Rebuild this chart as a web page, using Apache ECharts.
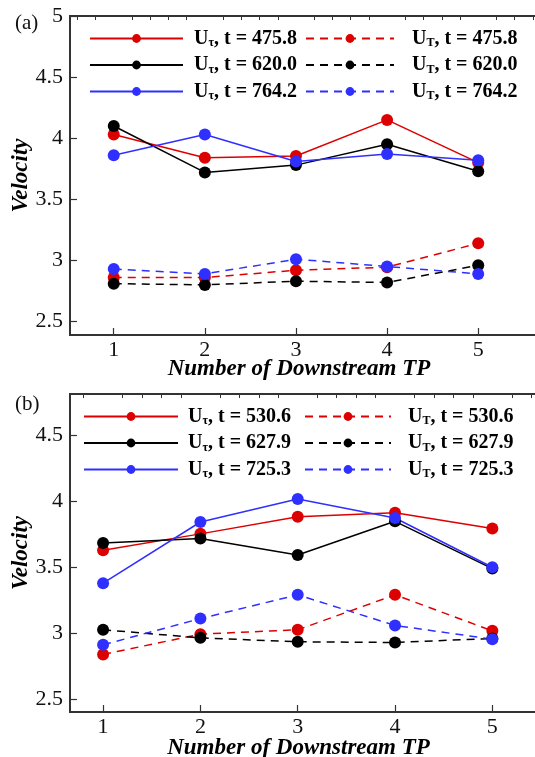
<!DOCTYPE html>
<html>
<head>
<meta charset="utf-8">
<script src="https://cdn.jsdelivr.net/npm/echarts@6/dist/echarts.min.js"></script>
<style>
    html, body { margin: 0; padding: 0; background: #fff; }
    #chart { width: 535px; height: 757px; }
</style>
</head>
<body>
<div id="chart"></div>
<script>
'use strict';

var tpNumbers = [1, 2, 3, 4, 5];

// tick marks
var xMajorTicks = [1, 2, 3, 4, 5];
var xMinorTicks = [0.6, 0.8, 1.2, 1.4, 1.6, 1.8, 2.2, 2.4, 2.6, 2.8, 3.2, 3.4, 3.6, 3.8,
    4.2, 4.4, 4.6, 4.8, 5.2, 5.4, 5.6];
var yMajorTicksA = [2.5, 3, 3.5, 4, 4.5, 5];
var yMajorTicksB = [2.5, 3, 3.5, 4, 4.5];
var yMinorTicks = [2.4, 2.6, 2.7, 2.8, 2.9, 3.1, 3.2, 3.3, 3.4, 3.6, 3.7, 3.8, 3.9,
    4.1, 4.2, 4.3, 4.4, 4.6, 4.7, 4.8, 4.9];

// panel (a)
var timesA = ['475.8', '620.0', '764.2'];
var uTauA1 = [4.03, 3.84, 3.855, 4.15, 3.80];
var uTauA2 = [4.10, 3.72, 3.78, 3.95, 3.73];
var uTauA3 = [3.86, 4.03, 3.81, 3.87, 3.82];
var uTA1 = [2.86, 2.86, 2.92, 2.945, 3.14];
var uTA2 = [2.81, 2.80, 2.83, 2.82, 2.96];
var uTA3 = [2.93, 2.89, 3.01, 2.95, 2.89];

// panel (b)
var timesB = ['530.6', '627.9', '725.3'];
var uTauB1 = [3.625, 3.75, 3.88, 3.91, 3.79];
var uTauB2 = [3.68, 3.715, 3.59, 3.845, 3.487];
var uTauB3 = [3.376, 3.84, 4.015, 3.87, 3.497];
var uTB1 = [2.836, 2.99, 3.023, 3.288, 3.015];
var uTB2 = [3.023, 2.962, 2.932, 2.927, 2.957];
var uTB3 = [2.909, 3.108, 3.288, 3.056, 2.952];

var colors = ['#dd0000', '#000000', '#2f2fff'];
var serif = 'Liberation Serif';

var chart = echarts.init(document.getElementById('chart'));

function pairs(ys) {
    return tpNumbers.map(function (x, i) { return [x, ys[i]]; });
}

function makeSeries(prefix, times, tauSets, tSets, axisIndex) {
    var list = [];
    for (var i = 0; i < 3; i++) {
        list.push({
            name: 'Uτ, t = ' + times[i] + prefix,
            type: 'line',
            xAxisIndex: axisIndex, yAxisIndex: axisIndex,
            data: pairs(tauSets[i]),
            symbol: 'circle', symbolSize: 12,
            color: colors[i],
            lineStyle: { width: 1.5, color: colors[i] },
            itemStyle: { color: colors[i] }
        });
    }
    for (var j = 0; j < 3; j++) {
        list.push({
            name: 'UT, t = ' + times[j] + prefix,
            type: 'line',
            xAxisIndex: axisIndex, yAxisIndex: axisIndex,
            data: pairs(tSets[j]),
            symbol: 'circle', symbolSize: 12,
            color: colors[j],
            lineStyle: { width: 1.5, color: colors[j], type: [8, 6] },
            itemStyle: { color: colors[j] }
        });
    }
    return list;
}

var series = []
    .concat(makeSeries('', timesA, [uTauA1, uTauA2, uTauA3], [uTA1, uTA2, uTA3], 0))
    .concat(makeSeries(' ', timesB, [uTauB1, uTauB2, uTauB3], [uTB1, uTB2, uTB3], 2));

function legendFormatter(name) {
    var sub = name.charAt(1);
    var rest = name.substring(2).trim();
    return '{b|U}{s|' + sub + '}{b|' + rest + '}';
}

var richText = {
    b: { fontFamily: serif, fontWeight: 'bold', fontSize: 20, color: '#000', lineHeight: 20 },
    s: { fontFamily: serif, fontWeight: 'bold', fontSize: 12, color: '#000', padding: [9, 0, 0, 0], lineHeight: 11 }
};

function makeLegend(names, left, top, width, gap) {
    return {
        data: names,
        orient: 'vertical',
        left: left, top: top,
        itemWidth: width, itemHeight: 11,
        itemGap: 5.5,
        selectedMode: false,
        formatter: legendFormatter,
        textStyle: { rich: richText, padding: [0, 0, 0, gap] }
    };
}

var legends = [
    makeLegend(series.slice(0, 3).map(function (s) { return s.name; }), 84, 23, 93, 6),
    makeLegend(series.slice(3, 6).map(function (s) { return s.name; }), 300, 23, 88, 13),
    makeLegend(series.slice(6, 9).map(function (s) { return s.name; }), 78, 401, 94, 5),
    makeLegend(series.slice(9, 12).map(function (s) { return s.name; }), 299, 401, 86, 12)
];

var axisColor = '#333';

function mainX(grid, min, max, nameGap) {
    return {
        type: 'value', gridIndex: grid, min: min, max: max,
        axisLine: { show: true, lineStyle: { color: axisColor, width: 2 } },
        axisTick: { show: true, inside: true, length: 7, customValues: xMajorTicks, lineStyle: { color: axisColor, width: 1.2 } },
        splitLine: { show: false },
        axisLabel: {
            margin: 4, color: '#111', fontFamily: serif, fontSize: 22,
            customValues: xMajorTicks
        },
        name: 'Number of Downstream TP', nameLocation: 'middle', nameGap: nameGap,
        nameMoveOverlap: false,
        nameTextStyle: { fontFamily: serif, fontWeight: 'bold', fontStyle: 'italic', fontSize: 23, color: '#000', padding: [0, 14, 0, 0] }
    };
}

function minorX(grid, min, max) {
    return {
        type: 'value', gridIndex: grid, min: min, max: max,
        axisLine: { show: false },
        axisTick: { show: true, inside: true, length: 4, customValues: xMinorTicks, lineStyle: { color: axisColor, width: 1 } },
        splitLine: { show: false },
        axisLabel: { show: false }
    };
}

function mainY(grid, min, max, ticks) {
    return {
        type: 'value', gridIndex: grid, min: min, max: max,
        axisLine: { show: true, lineStyle: { color: axisColor, width: 2 } },
        axisTick: { show: true, inside: true, length: 7, customValues: ticks, lineStyle: { color: axisColor, width: 1.2 } },
        splitLine: { show: false },
        axisLabel: {
            margin: 7, color: '#111', fontFamily: serif, fontSize: 22,
            customValues: ticks
        },
        name: 'Velocity', nameLocation: 'middle', nameGap: 37,
        nameMoveOverlap: false,
        nameTextStyle: { fontFamily: serif, fontWeight: 'bold', fontStyle: 'italic', fontSize: 23, color: '#000' }
    };
}

function minorY(grid, min, max) {
    return {
        type: 'value', gridIndex: grid, min: min, max: max,
        axisLine: { show: false },
        axisTick: {
            show: true, inside: true, length: 4,
            customValues: yMinorTicks.filter(function (v) { return v > min && v < max; }),
            lineStyle: { color: axisColor, width: 1 }
        },
        splitLine: { show: false },
        axisLabel: { show: false }
    };
}

chart.setOption({
    backgroundColor: '#fff',
    animation: false,
    title: [
        { text: '(a)', left: 10, top: 8, textStyle: { fontFamily: serif, fontWeight: 'normal', fontSize: 21, color: '#111' } },
        { text: '(b)', left: 10, top: 389, textStyle: { fontFamily: serif, fontWeight: 'normal', fontSize: 21, color: '#111' } }
    ],
    legend: legends,
    grid: [
        { left: 70, top: 16, width: 472, height: 319, show: true, borderColor: axisColor, borderWidth: 2, outerBoundsMode: 'none' },
        { left: 70, top: 394, width: 471, height: 318, show: true, borderColor: axisColor, borderWidth: 2, outerBoundsMode: 'none' }
    ],
    xAxis: [
        mainX(0, 0.52, 5.7, 23),
        minorX(0, 0.52, 5.7),
        mainX(1, 0.66, 5.5, 25),
        minorX(1, 0.66, 5.5)
    ],
    yAxis: [
        mainY(0, 2.39, 5, yMajorTicksA),
        minorY(0, 2.39, 5),
        mainY(1, 2.4, 4.81, yMajorTicksB),
        minorY(1, 2.4, 4.81)
    ],
    series: series
});
</script>
</body>
</html>
